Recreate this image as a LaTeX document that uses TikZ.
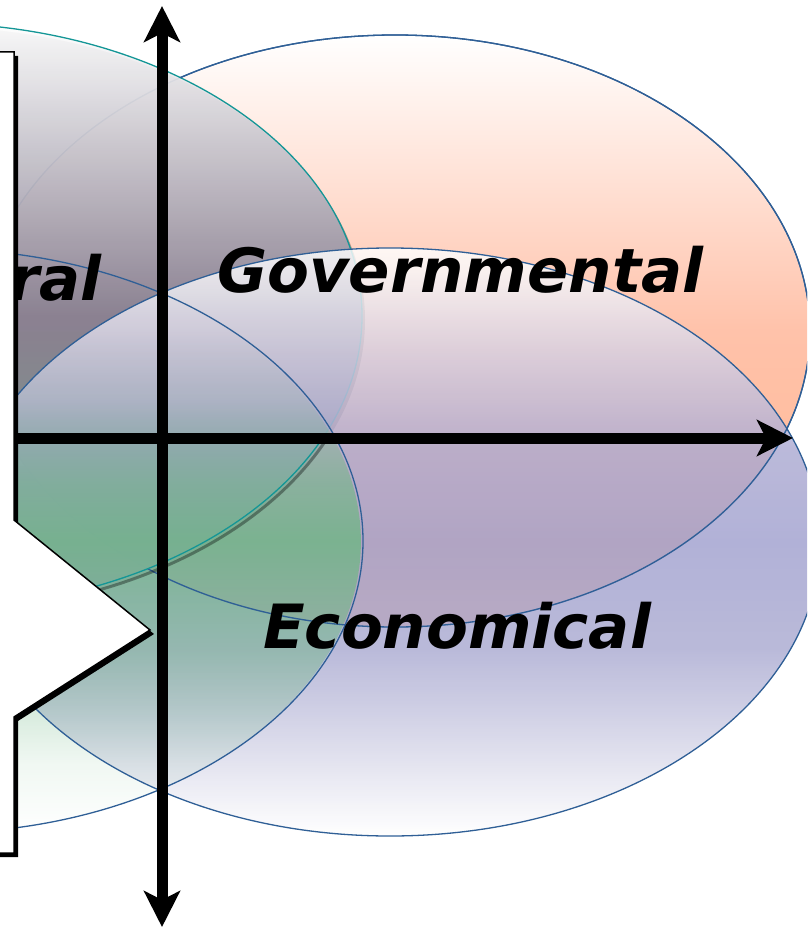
\documentclass[tikz,border=0pt]{standalone}
\usepackage{fontspec}
\newfontfamily\quadfont{DejaVu Sans}[BoldItalicFont={DejaVu Sans Bold Oblique}]
\usetikzlibrary{arrows.meta,fadings,calc}

\definecolor{rimblue}{RGB}{47,95,150}
\definecolor{rimteal}{RGB}{20,150,150}
\definecolor{govpeach}{RGB}{255,194,170}
\definecolor{govorange}{RGB}{255,182,142}
\definecolor{socgrey}{RGB}{136,129,148}
\definecolor{socbottom}{RGB}{120,140,138}
\definecolor{envgreen}{RGB}{110,182,132}

% lavender band of the lower right ellipse
\pgfdeclareverticalshading{ecoshade}{100bp}{color(0bp)=(white); color(25bp)=(white);
  color(31.5bp)=(rgb,255:red,220;green,220;blue,235); color(36bp)=(rgb,255:red,195;green,195;blue,222);
  color(41bp)=(rgb,255:red,170;green,170;blue,209); color(50bp)=(rgb,255:red,160;green,160;blue,206);
  color(58bp)=(rgb,255:red,172;green,170;blue,210); color(66bp)=(rgb,255:red,212;green,208;blue,228);
  color(73bp)=(rgb,255:red,248;green,248;blue,250); color(75bp)=(white); color(100bp)=(white)}
% green ellipse fades out at top and bottom
\pgfdeclareverticalshading{envshade}{100bp}{color(0bp)=(transparent!100); color(25bp)=(transparent!100);
  color(31bp)=(transparent!90); color(40bp)=(transparent!55); color(50bp)=(transparent!20);
  color(55bp)=(transparent!40); color(62bp)=(transparent!88); color(68bp)=(transparent!100);
  color(100bp)=(transparent!100)}
\pgfdeclarefading{envfade}{\pgfuseshading{envshade}}

\begin{document}
\begin{tikzpicture}[x=1pt, y=-1pt,
    >={Stealth[length=36pt,width=36pt,inset=9pt]},
    rim/.style={draw=rimblue, line width=1.3pt},
    socrim/.style={draw=rimteal, line width=1.3pt},
    axis/.style={line width=11pt},
    lbl/.style={font=\quadfont\bfseries\itshape\fontsize{61}{70}\selectfont, inner sep=0pt}
    ]
    \useasboundingbox (0,0) rectangle (807,928);
    \clip (0,0) rectangle (807,928);

    \coordinate (gov) at (395,331);
    \coordinate (soc) at (-72,316);
    \coordinate (eco) at (390,542);
    \coordinate (env) at (-65,541);

    % ellipses
    \shade[top color=white, bottom color=govorange, middle color=govpeach] (gov) ellipse [x radius=415, y radius=296];
    \draw[rim] (gov) ellipse [x radius=415, y radius=296];
    \fill[black, opacity=.3] ($(soc)+(3,4)$) ellipse [x radius=434, y radius=293];
    \shade[top color=white, bottom color=socbottom, middle color=socgrey, fill opacity=.92] (soc) ellipse [x radius=434, y radius=293];
    \draw[socrim] (soc) ellipse [x radius=434, y radius=293];
    \shade[shading=ecoshade, fill opacity=.82] (eco) ellipse [x radius=430, y radius=294];
    \fill[envgreen, path fading=envfade] (env) ellipse [x radius=428, y radius=292];

    % outlines on top
    \begin{scope}[even odd rule]
      \clip (-100,-100) rectangle (900,1000) (soc) ellipse [x radius=434, y radius=293];
      \draw[rim] (gov) ellipse [x radius=415, y radius=296];
    \end{scope}
    \draw[rim] (eco) ellipse [x radius=430, y radius=294];
    \draw[rim] (env) ellipse [x radius=428, y radius=292];
    \begin{scope}
      \clip (0,438) rectangle (807,928);
      \draw[black, opacity=.35, line width=3pt] ($(soc)+(2,4)$) ellipse [x radius=434, y radius=293];
      \draw[socrim] (soc) ellipse [x radius=434, y radius=293];
    \end{scope}

    % labels
    \node[lbl, anchor=base west] (govtext) at (217,292) {Governmental};
    \node[lbl, anchor=base west] (ecotext) at (263,648) {Economical};
    \node[lbl, anchor=base east] (soctext) at (102,300) {ral};

    % axes
    \coordinate (ytop) at (162,6);
    \coordinate (ybot) at (162,927);
    \coordinate (xleft) at (15,438);
    \coordinate (xright) at (793,438);
    \draw[axis, <->] (ybot) -- (ytop);
    \draw[axis, ->] (xleft) -- (xright);

    % notched block on the left
    \fill[black, shift={(4,4)}] (-10,52) -- (14,52) -- (14,520) -- (150,630) -- (14,717) -- (14,853) -- (-10,853) -- cycle;
    \filldraw[fill=white, draw=black, line width=1.5pt] (-10,52) -- (14,52) -- (14,520) -- (150,630) -- (14,717) -- (14,853) -- (-10,853) -- cycle;
  \end{tikzpicture}
\end{document}
